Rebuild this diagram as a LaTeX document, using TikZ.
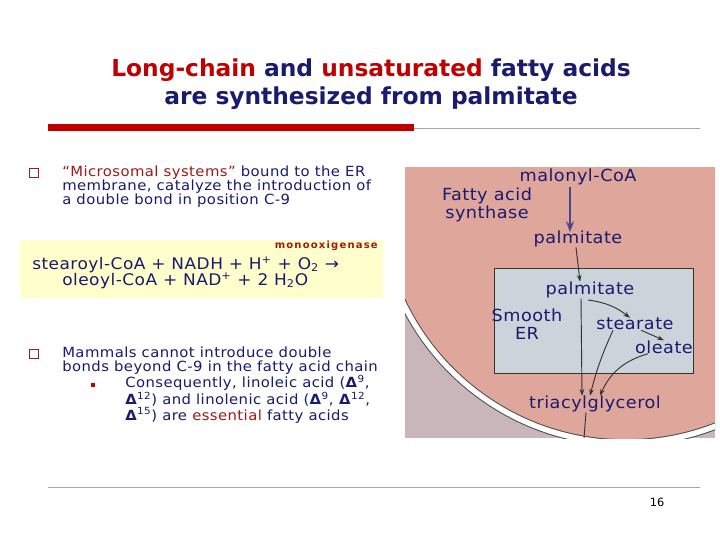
\documentclass[tikz,border=0pt]{standalone}
\usepackage{fontspec}
\setmainfont{DejaVu Sans}
\newfontfamily\spacedfont[LetterSpace=12]{DejaVu Sans}
\newfontfamily\widefont[LetterSpace=3,FakeStretch=1.06]{DejaVu Sans}
\usetikzlibrary{arrows.meta}
\definecolor{navy}{HTML}{1A1A6E}
\definecolor{tred}{HTML}{C00000}
\definecolor{dred}{HTML}{A01818}
\definecolor{pinkbg}{HTML}{DFA69C}
\definecolor{graybg}{HTML}{C8B6BA}
\definecolor{erbg}{HTML}{CBD4DA}
\definecolor{yel}{HTML}{FFFFCC}
\tikzset{
 txt/.style={anchor=west,inner sep=0,text=navy,font=\widefont\fontsize{10.5}{10.5}\selectfont},
 img/.style={inner sep=0,text=navy,font=\widefont\fontsize{12.5}{14}\selectfont},
 sm/.style={-{Stealth[length=5pt,width=3.5pt]},line width=0.7pt,draw=black!80},
 bul/.style={draw=dred,line width=0.6pt,minimum size=7pt,inner sep=0}
}
\begin{document}
\begin{tikzpicture}[x=0.75pt,y=-0.75pt]
\useasboundingbox (0,0) rectangle (720,540);
\fill[white] (0,0) rectangle (720,540);
% title
\node[inner sep=0,font=\bfseries\fontsize{17.5}{21}\selectfont,align=center] (title) at (371,84)
 {\textcolor{tred}{Long-chain} \textcolor{navy}{and} \textcolor{tred}{unsaturated} \textcolor{navy}{fatty acids}\\ \textcolor{navy}{are synthesized from palmitate}};
\fill[tred] (48,124) rectangle (414,131);
\draw[gray!70,line width=0.6pt] (414,128) -- (700,128);
\draw[gray!70,line width=0.6pt] (48,487) -- (700,487);
\node[inner sep=0,font=\fontsize{8.5}{10}\selectfont] (pg) at (657,502) {16};
% left text
\node[bul] (b1) at (34,173) {};
\node[txt,align=left] (t1) at (62,187)
 {\textcolor{dred}{“Microsomal systems”} bound to the ER\\membrane, catalyze the introduction of\\a double bond in position C-9};
\fill[yel] (20,240) rectangle (383,298);
\node[anchor=east,inner sep=0,text=dred,font=\spacedfont\bfseries\fontsize{7.5}{9}\selectfont] (mono) at (378,246) {monooxigenase};
\node[txt,font=\widefont\fontsize{12}{13}\selectfont] (eq1) at (32,265) {stearoyl-CoA + NADH + H\textsuperscript{+} + O\textsubscript{2} →};
\node[txt,font=\widefont\fontsize{12}{13}\selectfont] (eq2) at (62,281) {oleoyl-CoA + NAD\textsuperscript{+} + 2 H\textsubscript{2}O};
\node[bul] (b2) at (34,354) {};
\node[txt,align=left] (t2) at (62,361)
 {Mammals cannot introduce double\\bonds beyond C-9 in the fatty acid chain};
\fill[tred] (91,383) rectangle (95,387);
\node[txt,align=left] (t3) at (125,399)
 {Consequently, linoleic acid (\textbf{Δ}\textsuperscript{9},\\\textbf{Δ}\textsuperscript{12}) and linolenic acid (\textbf{Δ}\textsuperscript{9}, \textbf{Δ}\textsuperscript{12},\\\textbf{Δ}\textsuperscript{15}) are \textcolor{dred}{essential} fatty acids};
% image
\begin{scope}
\clip (405,167) rectangle (715,438);
\fill[graybg] (405,167) rectangle (715,438);
\fill[pinkbg] (625.8,195.9) circle (245.4);
\draw[black!70,line width=5.5pt] (625.8,195.9) circle (247);
\draw[white,line width=4pt] (625.8,195.9) circle (247);
\end{scope}
\fill[erbg,draw=black!80,line width=0.7pt] (494,268) rectangle (693,373);
\node[img] (mal) at (578,177) {malonyl-CoA};
\node[img,align=center] (fas) at (487,205) {Fatty acid\\synthase};
\node[img] (p1) at (578,239) {palmitate};
\node[img] (p2) at (590,290) {palmitate};
\node[img,align=center] (ser) at (527,324) {Smooth\\ER};
\node[img] (st) at (635,324) {stearate};
\node[img] (ol) at (664,347) {oleate};
\node[img] (tag) at (595,404) {triacylglycerol};
\coordinate (bot) at (584,438);
\draw[-{Stealth[length=8pt,width=6pt]},line width=1.4pt,draw=navy!80] (mal.south -| 570,0) ++(0,2) -- ([yshift=-1pt]p1.north -| 570,0);
\draw[sm] (p1.south -| 576,0) -- (p2.north -| 580,0);
\draw[sm] (p2.south -| 581,0) -- (tag.north -| 582,0);
\draw[sm] (588,300) to[bend left=15] (st.north -| 630,0);
\draw[sm] (st.south -| 613,0) to[bend right=5] (tag.north -| 590,0);
\draw[sm] (st.south -| 641,0) -- (ol.north);
\draw[sm] (ol.south -| 648,0) to[bend right=25] (tag.north -| 600,0);
\draw[line width=0.7pt,black!80] (tag.south -| 586,0) -- (bot);
\end{tikzpicture}
\end{document}
